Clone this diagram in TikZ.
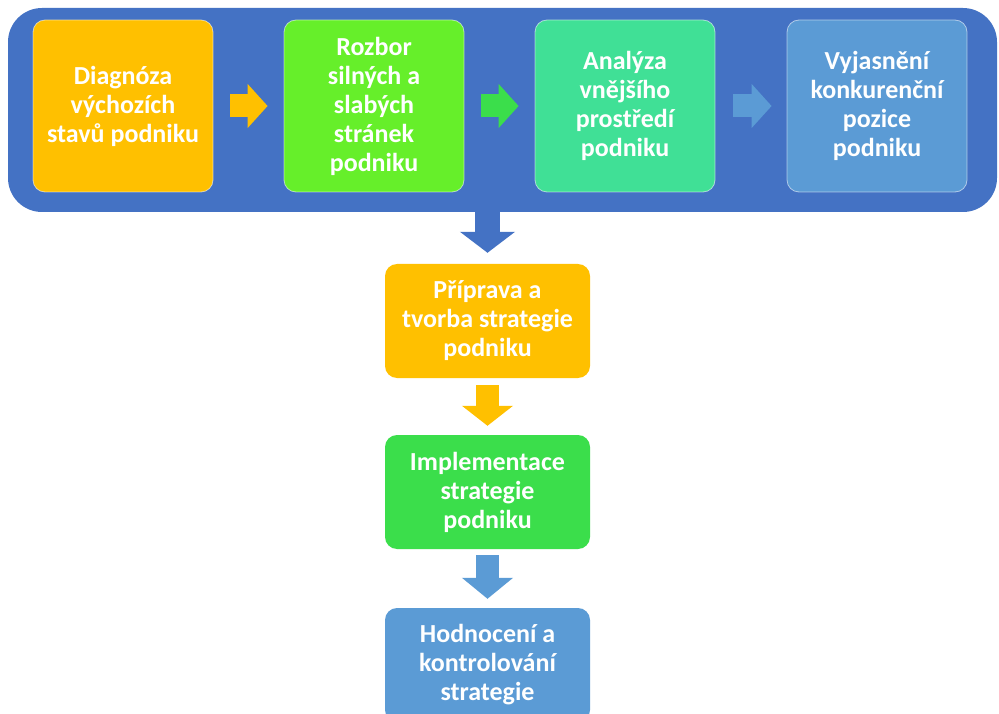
\documentclass[tikz,border=0pt]{standalone}
\usepackage{fontspec}
\setmainfont{Carlito}
\usetikzlibrary{arrows.meta,calc}

\definecolor{panelblue}{HTML}{4472C4}
\definecolor{softblue}{HTML}{5B9BD5}
\definecolor{amber}{HTML}{FFC000}
\definecolor{lime}{HTML}{66EF2A}
\definecolor{mint}{HTML}{40E096}
\definecolor{brightgreen}{HTML}{3BDE4B}

\tikzset{
  boxtext/.style={text=white, font=\bfseries\fontsize{26}{29}\selectfont, align=center, inner sep=0pt},
  topbox/.style={boxtext, rounded corners=12pt, minimum width=180pt, minimum height=172pt,
    draw=white, draw opacity=0.55, line width=0.8pt},
  lowbox/.style={boxtext, rounded corners=12pt, minimum width=205pt, minimum height=114pt},
  sidearrow/.style={line width=23pt, -{Triangle[length=20pt,width=43pt]}},
  downarrow/.style={line width=#1},
}

\begin{document}
\begin{tikzpicture}[x=1pt,y=-1pt]
  \useasboundingbox (0,0) rectangle (999,714);
  \clip (0,0) rectangle (999,714);
  \fill[white] (0,0) rectangle (999,714);

  % blue band holding the analysis steps
  \node[fill=panelblue, rounded corners=34pt, minimum width=989pt, minimum height=204pt, inner sep=0pt]
    (panel) at (502.5,110) {};

  \node[topbox, fill=amber]  (diag) at (123,106) {Diagnóza\\výchozích\\stavů podniku};
  \node[topbox, fill=lime]   (rozb) at (374,106) {Rozbor\\silných a\\slabých\\stránek\\podniku};
  \node[topbox, fill=mint]   (anal) at (625,106) {Analýza\\vnějšího\\prostředí\\podniku};
  \node[topbox, fill=softblue] (vyj) at (877,106) {Vyjasnění\\konkurenční\\pozice\\podniku};

  \draw[sidearrow, amber, shorten <=17pt, shorten >=16pt] (diag.east) -- (rozb.west);
  \draw[sidearrow, brightgreen, shorten <=17pt, shorten >=16pt] (rozb.east) -- (anal.west);
  \draw[sidearrow, softblue, shorten <=18pt, shorten >=15pt] (anal.east) -- (vyj.west);

  % vertical sequence of strategy steps
  \node[lowbox, fill=amber]       (prip) at (487.5,321) {Příprava a\\tvorba strategie\\podniku};
  \node[lowbox, fill=brightgreen] (impl) at (487.5,492) {Implementace\\strategie\\podniku};
  \node[lowbox, fill=softblue]    (hodn) at (487.5,665) {Hodnocení a\\kontrolování\\strategie};

  \draw[downarrow=25pt, panelblue, shorten >=11pt, -{Triangle[length=21pt,width=54pt]}]
    (prip.north |- panel.south) -- (prip.north);
  \draw[downarrow=23pt, amber, shorten <=7pt, shorten >=9pt, -{Triangle[length=20pt,width=50pt]}]
    (prip.south) -- (impl.north);
  \draw[downarrow=23pt, softblue, shorten <=6pt, shorten >=9pt, -{Triangle[length=21pt,width=50pt]}]
    (impl.south) -- (hodn.north);
\end{tikzpicture}
\end{document}
